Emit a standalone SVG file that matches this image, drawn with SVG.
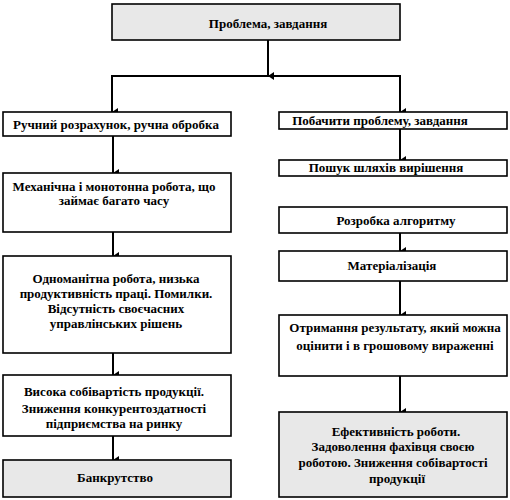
<svg xmlns="http://www.w3.org/2000/svg" width="510" height="500" viewBox="0 0 510 500">
<defs>
<marker id="ah" viewBox="0 0 8 8" refX="4" refY="8" markerWidth="8" markerHeight="8" markerUnits="userSpaceOnUse" orient="auto-start-reverse">
<path d="M0,2 L8,2 L4,8 Z" fill="#000"/>
</marker>
<style>
.box{fill:#fff;stroke:#000;stroke-width:1.6}
.gray{fill:#e8e8e8;stroke:#000;stroke-width:1.6}
.t{font-family:'Liberation Serif','Times New Roman',serif;font-weight:bold;font-size:13px;fill:#000;text-anchor:middle}
.c{fill:none;stroke:#000;stroke-width:2}
</style>
</defs>
<rect width="510" height="500" fill="#fff"/>
<g id="connectors">
<line class="c" x1="268" y1="40" x2="268" y2="76" marker-end="url(#ah)"/>
<polyline class="c" points="112,112 112,76 400,76 400,112" fill="none"/>
<line class="c" x1="112" y1="76" x2="112" y2="112" marker-end="url(#ah)"/>
<line class="c" x1="400" y1="76" x2="400" y2="112" marker-end="url(#ah)"/>
<line class="c" x1="113" y1="136" x2="113" y2="173" marker-end="url(#ah)"/>
<line class="c" x1="113" y1="232" x2="113" y2="256" marker-end="url(#ah)"/>
<line class="c" x1="113" y1="353" x2="113" y2="375" marker-end="url(#ah)"/>
<line class="c" x1="113" y1="436" x2="113" y2="460" marker-end="url(#ah)"/>
<line class="c" x1="400" y1="129" x2="400" y2="160" marker-end="url(#ah)"/>
<line class="c" x1="400" y1="233" x2="400" y2="251" marker-end="url(#ah)"/>
<line class="c" x1="400" y1="281" x2="400" y2="315" marker-end="url(#ah)"/>
<line class="c" x1="400" y1="376" x2="400" y2="412" marker-end="url(#ah)"/>
</g>
<g id="n0"><rect class="gray" x="112" y="4" width="288" height="36"/><text class="t" x="268" y="28">Проблема,  завдання</text></g>
<g id="l1"><rect class="box" x="3" y="112" width="228" height="24"/><text class="t" x="116" y="129">Ручний розрахунок,  ручна обробка</text></g>
<g id="l2"><rect class="box" x="3" y="173" width="228" height="59"/><text class="t" x="114" y="191">Механічна і монотонна робота, що</text><text class="t" x="114" y="205">займає багато часу</text></g>
<g id="l3"><rect class="box" x="3" y="256" width="228" height="97"/><text class="t" x="116" y="283">Одноманітна  робота, низька</text><text class="t" x="116" y="298">продуктивність  праці. Помилки.</text><text class="t" x="116" y="313">Відсутність  своєчасних</text><text class="t" x="116" y="328">управлінських  рішень</text></g>
<g id="l4"><rect class="box" x="3" y="375" width="228" height="61"/><text class="t" x="114" y="396">Висока собівартість  продукції.</text><text class="t" x="114" y="413">Зниження конкурентоздатності</text><text class="t" x="114" y="428">підприємства на ринку</text></g>
<g id="l5"><rect class="gray" x="3" y="460" width="228" height="37"/><text class="t" x="115" y="482">Банкрутство</text></g>
<g id="r1"><rect class="box" x="279" y="112" width="228" height="17"/><text class="t" x="380" y="125">Побачити проблему, завдання</text></g>
<g id="r2"><rect class="box" x="279" y="160" width="228" height="16"/><text class="t" x="386" y="172">Пошук шляхів  вирішення</text></g>
<g id="r3"><rect class="box" x="279" y="207" width="228" height="26"/><text class="t" x="396" y="225">Розробка алгоритму</text></g>
<g id="r4"><rect class="box" x="279" y="251" width="228" height="30"/><text class="t" x="392" y="270">Матеріалізація</text></g>
<g id="r5"><rect class="box" x="279" y="315" width="228" height="61"/><text class="t" x="395" y="332">Отримання результату,  який можна</text><text class="t" x="395" y="350">оцінити і в грошовому вираженні</text></g>
<g id="r6"><rect class="gray" x="279" y="412" width="228" height="85"/><text class="t" x="396" y="436">Ефективність  роботи.</text><text class="t" x="393" y="451">Задоволення  фахівця  своєю</text><text class="t" x="393" y="467">роботою.  Зниження собівартості</text><text class="t" x="397" y="483">продукції</text></g>
</svg>
